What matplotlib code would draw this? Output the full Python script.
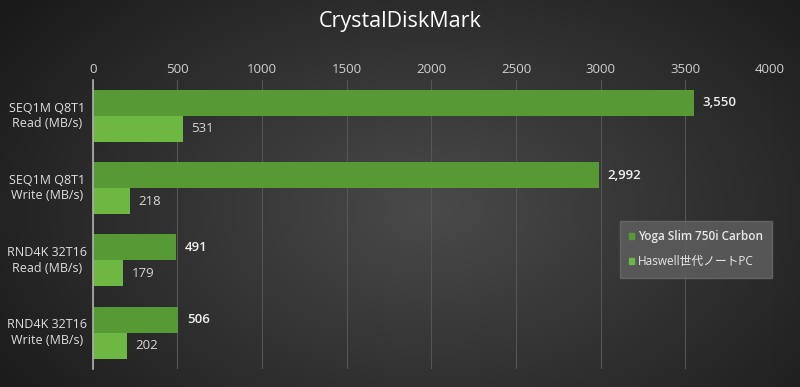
import numpy as np
import matplotlib
matplotlib.use("Agg")
import matplotlib.pyplot as plt
from matplotlib.patches import Patch

plt.rcParams['font.family'] = ['Open Sans', 'Noto Sans CJK JP', 'DejaVu Sans']

categories = ["SEQ1M Q8T1\nRead (MB/s)", "SEQ1M Q8T1\nWrite (MB/s)",
              "RND4K 32T16\nRead (MB/s)", "RND4K 32T16\nWrite (MB/s)"]
series_names = ["Yoga Slim 750i Carbon", "Haswell世代ノートPC"]
yoga = [3550, 2992, 491, 506]
haswell = [531, 218, 179, 202]
xticks = [0, 500, 1000, 1500, 2000, 2500, 3000, 3500, 4000]

fig = plt.figure(figsize=(8, 3.87), dpi=100)

# radial gradient background
bg = fig.add_axes([0, 0, 1, 1], zorder=-10)
yy, xx = np.mgrid[0:387, 0:800]
r = np.sqrt(((xx - 430) / 500.0) ** 2 + ((yy - 210) / 320.0) ** 2)
v = np.clip(0.29 - 0.18 * r, 0.10, 0.30)
img = np.dstack([v, v, v])
bg.imshow(img, aspect='auto', extent=[0, 1, 0, 1])
bg.axis('off')

ax = fig.add_axes([0.116, 0.047, 0.8465, 0.747])
ax.patch.set_alpha(0)
n = len(categories)
y = np.arange(n)
h = 0.36
c1 = '#579a35'
c2 = '#6cb843'
ax.barh(y - h / 2, yoga, height=h, color=c1, zorder=3)
ax.barh(y + h / 2, haswell, height=h, color=c2, zorder=3)
ax.set_ylim(n - 0.5, -0.5)
ax.set_xlim(0, 4000)
ax.set_xticks(xticks)
ax.set_xticklabels([str(t) for t in xticks])
ax.xaxis.tick_top()
ax.tick_params(axis='x', length=0, colors='#d0d0d0', labelsize=9.5, pad=3)
ax.set_yticks(y)
ax.set_yticklabels([])
ax.tick_params(axis='y', length=0)
for yi, lab in zip(y, categories):
    ax.annotate(lab, xy=(0, yi), xycoords=('axes fraction', 'data'),
                xytext=(-33, 0), textcoords='offset points',
                ha='center', va='center', multialignment='center',
                color='#e0e0e0', fontsize=9, linespacing=1.25)
ax.grid(axis='x', color='#555555', linewidth=0.8, zorder=0)
for s in ['top', 'right', 'bottom']:
    ax.spines[s].set_visible(False)
ax.spines['left'].set_color('#b0b0b0')
ax.spines['left'].set_linewidth(1.2)
ax.spines['left'].set_zorder(5)

for yi, v1, v2 in zip(y, yoga, haswell):
    ax.text(v1 + 50, yi - h / 2, f"{v1:,}", va='center', ha='left',
            color='#f0f0f0', fontsize=9.5, fontweight='semibold')
    ax.text(v2 + 50, yi + h / 2, f"{v2:,}", va='center', ha='left',
            color='#d8d8d8', fontsize=9.5)

fig.text(0.5, 0.945, "CrystalDiskMark", ha='center', va='center',
         color='white', fontsize=15.5)

handles = [Patch(color=c1), Patch(color=c2)]
leg = ax.legend(handles, series_names, loc='upper left',
                bbox_to_anchor=(614 / 800, 1 - 215 / 387), bbox_transform=fig.transFigure,
                frameon=True, fontsize=8.5, handlelength=0.4, handleheight=0.4,
                handletextpad=0.3, borderpad=0.8, labelspacing=1.0,
                fancybox=False)
leg.get_frame().set_facecolor('#5e5e5e')
leg.get_frame().set_alpha(0.85)
leg.get_frame().set_edgecolor('#6a6a6a')
for t in leg.get_texts():
    t.set_color('#e8e8e8')
leg.get_texts()[0].set_fontweight('semibold')

fig.savefig("out.png", dpi=100)
